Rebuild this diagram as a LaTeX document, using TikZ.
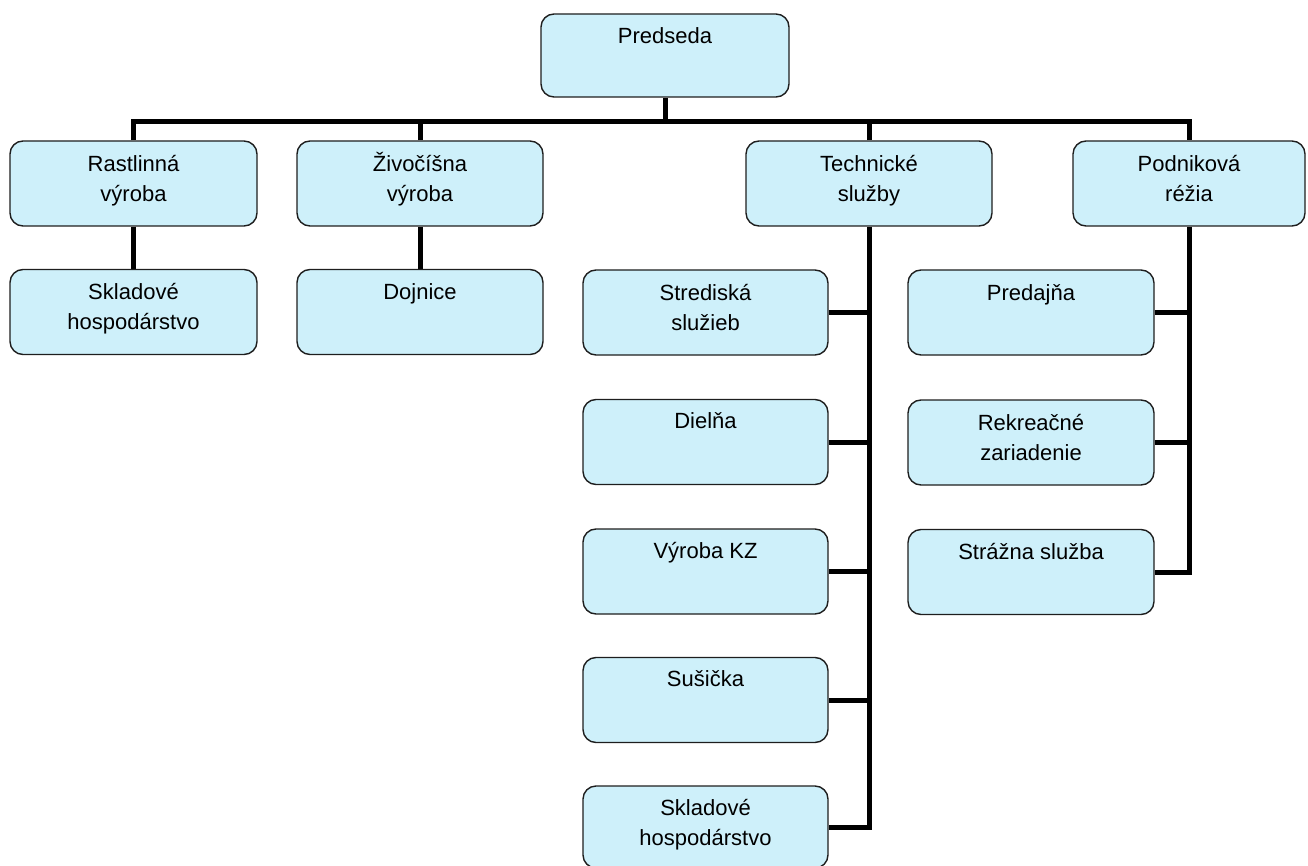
\documentclass[tikz,border=0pt]{standalone}
\usepackage{fontspec}
\setmainfont{Liberation Sans}
\usetikzlibrary{backgrounds}
\definecolor{boxfill}{RGB}{206,240,250}
\definecolor{boxline}{RGB}{30,30,30}
\begin{document}
\begin{tikzpicture}[x=1pt,y=-1pt,
  box/.style={draw=boxline, line width=1.4pt, fill=boxfill, rounded corners=13pt, inner sep=0pt},
  lbl/.style={font=\fontsize{22}{30}\selectfont, align=center, inner sep=0pt, anchor=base},
  conn/.style={line width=5pt, black, line join=miter}]
\useasboundingbox (0,0) rectangle (1308,866);
% boxes
\node[box, minimum width=248pt, minimum height=83pt] (pred) at (665,55.5) {};
\node[box, minimum width=247pt, minimum height=85pt] (rast) at (133.5,183.5) {};
\node[box, minimum width=246pt, minimum height=85pt] (ziv) at (420,183.5) {};
\node[box, minimum width=246pt, minimum height=85pt] (tech) at (869,183.5) {};
\node[box, minimum width=232pt, minimum height=85pt] (podn) at (1189,183.5) {};
\node[box, minimum width=247pt, minimum height=85pt] (skl1) at (133.5,312) {};
\node[box, minimum width=246pt, minimum height=85pt] (dojn) at (420,312) {};
\node[box, minimum width=245pt, minimum height=85pt] (stre) at (705.5,312.5) {};
\node[box, minimum width=245pt, minimum height=85pt] (diel) at (705.5,442) {};
\node[box, minimum width=245pt, minimum height=85pt] (vyro) at (705.5,571.5) {};
\node[box, minimum width=245pt, minimum height=85pt] (susi) at (705.5,700) {};
\node[box, minimum width=245pt, minimum height=82pt] (skl2) at (705.5,827) {};
\node[box, minimum width=246pt, minimum height=85pt] (pred2) at (1031,312.5) {};
\node[box, minimum width=246pt, minimum height=85pt] (rekr) at (1031,442.5) {};
\node[box, minimum width=246pt, minimum height=85pt] (straz) at (1031,572) {};
% labels (base anchor = last line baseline)
\node[lbl] (tpred) at ([yshift=-30pt]pred.north) {Predseda};
\node[lbl] (trast) at ([yshift=-61pt]rast.north) {Rastlinná\\výroba};
\node[lbl] (tziv) at ([yshift=-61pt]ziv.north) {Živočíšna\\výroba};
\node[lbl] (ttech) at ([yshift=-61pt]tech.north) {Technické\\služby};
\node[lbl] (tpodn) at ([yshift=-61pt]podn.north) {Podniková\\réžia};
\node[lbl] (tskl1) at ([yshift=-61pt]skl1.north) {Skladové\\hospodárstvo};
\node[lbl] (tdojn) at ([yshift=-31pt]dojn.north) {Dojnice};
\node[lbl] (tstre) at ([yshift=-61pt]stre.north) {Strediská\\služieb};
\node[lbl] (tdiel) at ([yshift=-30pt]diel.north) {Dielňa};
\node[lbl] (tvyro) at ([yshift=-30pt]vyro.north) {Výroba KZ};
\node[lbl] (tsusi) at ([yshift=-30pt]susi.north) {Sušička};
\node[lbl] (tskl2) at ([yshift=-60pt]skl2.north) {Skladové\\hospodárstvo};
\node[lbl] (tpred2) at ([yshift=-31pt]pred2.north) {Predajňa};
\node[lbl] (trekr) at ([yshift=-61pt]rekr.north) {Rekreačné\\zariadenie};
\node[lbl] (tstraz) at ([yshift=-31pt]straz.north) {Strážna služba};
% connectors
\coordinate (hub) at (665,122);
\begin{scope}[on background layer]
\draw[conn] (pred.south) -- (hub);
\draw[conn] (rast.north) |- (hub) -| (podn.north);
\draw[conn] (ziv.north) -- (ziv.north |- hub);
\draw[conn] (tech.north) -- (tech.north |- hub);
\draw[conn] (rast.south) -- (skl1.north);
\draw[conn] (ziv.south) -- (dojn.north);
\draw[conn] (tech.south) -- (tech.south |- skl2.east) -- (skl2.east);
\draw[conn] (stre.east) -- (stre.east -| tech.south);
\draw[conn] (diel.east) -- (diel.east -| tech.south);
\draw[conn] (vyro.east) -- (vyro.east -| tech.south);
\draw[conn] (susi.east) -- (susi.east -| tech.south);
\draw[conn] (podn.south) -- (podn.south |- straz.east) -- (straz.east);
\draw[conn] (pred2.east) -- (pred2.east -| podn.south);
\draw[conn] (rekr.east) -- (rekr.east -| podn.south);
\end{scope}
\end{tikzpicture}
\end{document}
